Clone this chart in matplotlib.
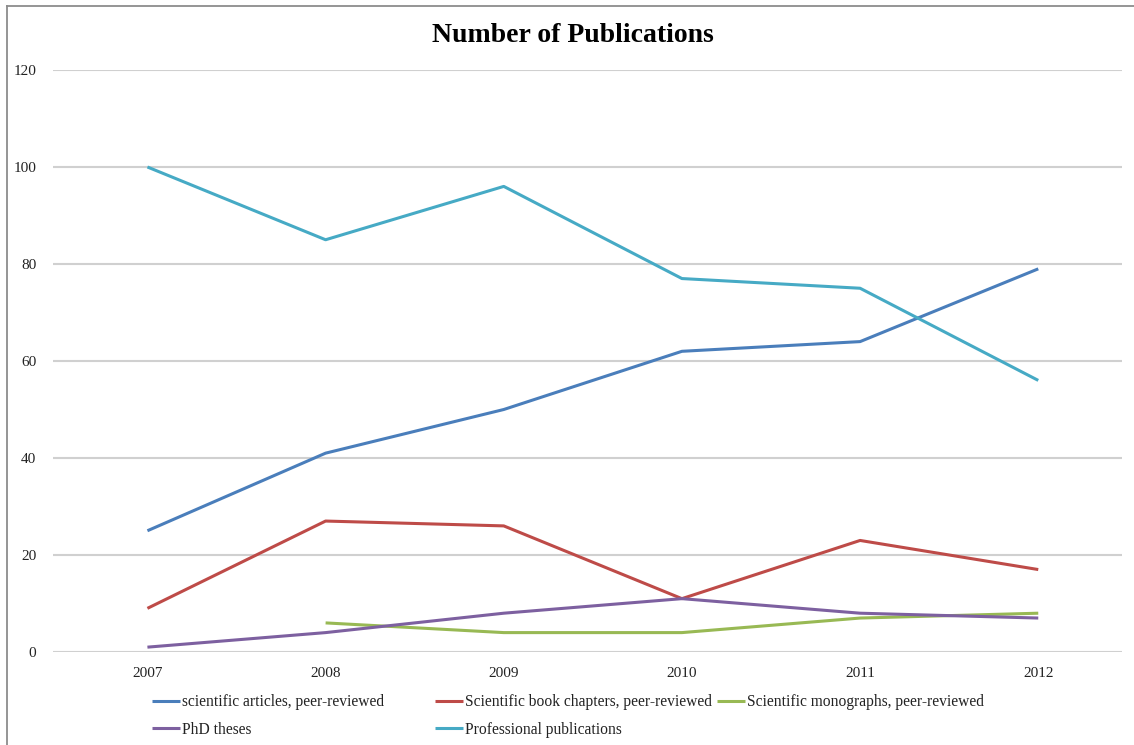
import numpy as np
import matplotlib
matplotlib.use("Agg")
import matplotlib.pyplot as plt
from matplotlib.lines import Line2D

plt.rcParams["font.family"] = ["Liberation Serif", "DejaVu Serif"]

years = ["2007", "2008", "2009", "2010", "2011", "2012"]
articles = [25, 41, 50, 62, 64, 79]
book_chapters = [9, 27, 26, 11, 23, 17]
monographs = [np.nan, 6, 4, 4, 7, 8]
phd_theses = [1, 4, 8, 11, 8, 7]
professional = [100, 85, 96, 77, 75, 56]

series = [
    ("scientific articles, peer-reviewed", articles, "#4A7EBB"),
    ("Scientific book chapters, peer-reviewed", book_chapters, "#BE4B48"),
    ("Scientific monographs, peer-reviewed", monographs, "#98B954"),
    ("PhD theses", phd_theses, "#7D60A0"),
    ("Professional publications", professional, "#46AAC5"),
]

fig = plt.figure(figsize=(11.34, 7.45), dpi=100)
ax = fig.add_axes([53 / 1134, 1 - 652 / 745, (1122 - 53) / 1134, (652 - 70) / 745])

x = np.arange(len(years))
lines = {}
for name, vals, col in series:
    ln, = ax.plot(x, vals, color=col, lw=2.2, solid_capstyle="butt", label=name)
    lines[name] = ln

ax.set_xlim(-0.53, len(years) - 0.53)
ax.set_ylim(0, 120)
ax.set_yticks(range(0, 121, 20))
ax.set_xticks(x)
ax.set_xticklabels(years)
ax.tick_params(length=0, labelsize=11, colors="#222222")
ax.tick_params(axis="y", pad=12)
ax.tick_params(axis="x", pad=11)
ax.grid(axis="y", color="#D0D0D0", lw=1.5)
ax.set_axisbelow(True)
for s in ax.spines.values():
    s.set_visible(False)

fig.text(573 / 1134, 1 - 36 / 745, "Number of Publications", ha="center", va="center",
         fontsize=20, fontweight="bold")

# legend laid out in fixed-width columns, one legend per column
columns = [
    (152, ["scientific articles, peer-reviewed", "PhD theses"]),
    (435, ["Scientific book chapters, peer-reviewed", "Professional publications"]),
    (717, ["Scientific monographs, peer-reviewed"]),
]
for xpos, names in columns:
    leg = fig.legend([lines[n] for n in names], names, loc="upper left",
                     bbox_to_anchor=(xpos / 1134, 1 - 694 / 745), frameon=False,
                     fontsize=11.2, handlelength=1.8, handletextpad=0.15,
                     labelspacing=0.75, borderpad=0, borderaxespad=0)
    for t in leg.get_texts():
        t.set_color("#222222")

# chart border
fig.add_artist(Line2D([7 / 1134, 7 / 1134], [0, 1 - 6 / 745], color="#8C8C8C", lw=1.3))
fig.add_artist(Line2D([7 / 1134, 1], [1 - 6 / 745, 1 - 6 / 745], color="#8C8C8C", lw=1.3))

fig.savefig("out.png", dpi=100)
